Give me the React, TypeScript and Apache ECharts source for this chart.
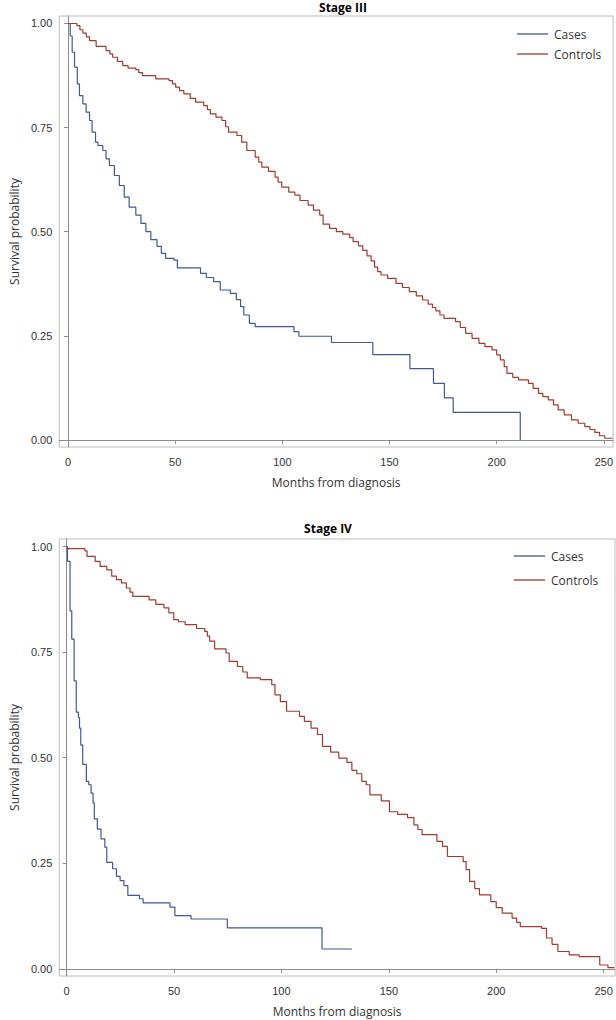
import React, { useEffect, useRef } from "react";
import * as echarts from "echarts";

const xTicks = [0, 50, 100, 150, 200, 250];
const yTicks = [0, 0.25, 0.5, 0.75, 1];
const panelTitles = ["Stage III", "Stage IV"];
const seriesNames = ["Cases", "Controls"];
const xTitle = "Months from diagnosis";
const yTitle = "Survival probability";

// [months, survival probability]
const stage3Cases: [number, number][] = [
  [0, 1], [1.0, 0.97], [1.9, 0.931], [3.0, 0.895], [4.3, 0.855], [5.3, 0.827], [6.9, 0.807],
  [8.4, 0.787], [10.0, 0.767], [11.2, 0.739], [12.8, 0.715], [13.9, 0.707], [16.2, 0.695],
  [17.7, 0.675], [19.3, 0.659], [21.6, 0.635], [23.9, 0.611], [26.2, 0.583], [28.5, 0.559],
  [31.6, 0.54], [34.0, 0.52], [36.3, 0.5], [38.6, 0.481], [41.5, 0.465], [43.5, 0.448],
  [45.5, 0.436], [49.4, 0.432], [51.0, 0.413], [61.8, 0.4], [64.5, 0.39], [67.9, 0.38],
  [71.0, 0.36], [75.7, 0.352], [78.5, 0.337], [80.5, 0.32], [82.0, 0.3], [84.6, 0.28],
  [87.3, 0.272], [105.4, 0.26], [107.7, 0.249], [122.9, 0.234], [142.2, 0.205],
  [159.5, 0.171], [170.5, 0.136], [175.6, 0.101], [179.7, 0.066], [211.0, 0],
];

const stage3Controls: [number, number][] = [
  [0, 1], [4.1, 0.995], [5.5, 0.985], [6.9, 0.977], [8.5, 0.968], [10.0, 0.959], [13.1, 0.945],
  [17.7, 0.935], [19.5, 0.927], [20.8, 0.919], [23.0, 0.909], [25.5, 0.899], [28.0, 0.893],
  [31.6, 0.889], [33.0, 0.882], [34.7, 0.875], [40.9, 0.867], [47.1, 0.863], [48.7, 0.855],
  [50.2, 0.847], [52.0, 0.839], [54.0, 0.831], [57.0, 0.82], [59.5, 0.811], [63.3, 0.803],
  [65.0, 0.793], [66.4, 0.783], [69.0, 0.775], [71.8, 0.767], [73.5, 0.752], [74.9, 0.739],
  [78.8, 0.731], [81.0, 0.715], [83.4, 0.695], [87.3, 0.679], [89.0, 0.667], [90.4, 0.655],
  [93.5, 0.645], [96.6, 0.631], [98.0, 0.619], [99.7, 0.607], [103.0, 0.595], [105.8, 0.588],
  [108.2, 0.575], [112.0, 0.564], [114.5, 0.552], [117.4, 0.54], [119.0, 0.518], [122.0, 0.508],
  [125.2, 0.5], [128.2, 0.494], [131.4, 0.486], [133.0, 0.476], [135.5, 0.466], [137.5, 0.455],
  [139.5, 0.442], [141.4, 0.43], [143.0, 0.415], [144.5, 0.404], [146.0, 0.396], [149.1, 0.388],
  [153.0, 0.376], [156.0, 0.366], [159.2, 0.356], [162.5, 0.346], [165.4, 0.336], [168.0, 0.326],
  [170.0, 0.318], [171.6, 0.31], [173.5, 0.3], [175.4, 0.292], [180.8, 0.284], [183.0, 0.27],
  [185.5, 0.256], [188.5, 0.244], [191.7, 0.232], [194.5, 0.224], [197.8, 0.216], [200.0, 0.204],
  [201.7, 0.192], [203.5, 0.176], [204.8, 0.16], [207.5, 0.15], [210.2, 0.144], [214.8, 0.136],
  [217.0, 0.124], [219.5, 0.112], [221.5, 0.104], [224.1, 0.096], [226.5, 0.084], [228.7, 0.072],
  [231.5, 0.06], [234.9, 0.048], [238.0, 0.04], [241.1, 0.032], [243.5, 0.025], [245.8, 0.018],
  [248.0, 0.01], [250.4, 0.004], [254.0, 0.004],
];

const stage4Cases: [number, number][] = [
  [0, 1], [0.4, 0.965], [1.6, 0.848], [2.4, 0.781], [3.5, 0.682], [4.5, 0.608], [5.5, 0.595],
  [6.0, 0.57], [6.6, 0.53], [7.5, 0.484], [9.2, 0.444], [10.3, 0.436], [11.4, 0.416],
  [12.3, 0.393], [12.9, 0.355], [14.3, 0.331], [16.0, 0.308], [17.8, 0.288], [18.7, 0.252],
  [21.4, 0.237], [23.2, 0.219], [24.9, 0.209], [26.7, 0.197], [28.5, 0.174], [33.9, 0.166],
  [35.6, 0.156], [48.1, 0.146], [50.4, 0.126], [57.9, 0.118], [74.8, 0.097], [118.9, 0.047],
  [132.8, 0.047],
];

const stage4Controls: [number, number][] = [
  [0, 0.995], [8.5, 0.99], [9.5, 0.977], [13.3, 0.965], [15.6, 0.953], [18.7, 0.945], [21.0, 0.93],
  [23.2, 0.922], [25.5, 0.914], [27.8, 0.902], [29.5, 0.892], [30.8, 0.882], [38.4, 0.874],
  [41.5, 0.863], [45.3, 0.855], [47.6, 0.843], [49.9, 0.827], [52.1, 0.822], [55.2, 0.815],
  [60.5, 0.806], [64.3, 0.799], [65.5, 0.788], [66.6, 0.776], [68.9, 0.758], [74.2, 0.748],
  [75.7, 0.728], [79.5, 0.716], [82.0, 0.703], [84.1, 0.689], [90.2, 0.685], [95.5, 0.673],
  [97.0, 0.649], [99.5, 0.633], [102.4, 0.61], [108.4, 0.598], [110.7, 0.586], [113.8, 0.57],
  [116.8, 0.555], [119.1, 0.527], [122.9, 0.513], [126.7, 0.499], [130.5, 0.489], [132.8, 0.47],
  [135.1, 0.462], [137.4, 0.444], [139.5, 0.436], [141.2, 0.412], [146.5, 0.398], [150.3, 0.372],
  [154.1, 0.366], [158.7, 0.358], [161.7, 0.341], [163.5, 0.33], [165.5, 0.318], [172.4, 0.302],
  [175.0, 0.29], [177.3, 0.266], [184.6, 0.254], [186.0, 0.235], [187.6, 0.207], [190.0, 0.19],
  [192.2, 0.175], [197.5, 0.159], [200.0, 0.145], [202.8, 0.132], [207.4, 0.12], [209.5, 0.11],
  [211.2, 0.1], [221.1, 0.096], [223.4, 0.073], [226.0, 0.058], [228.7, 0.041], [234.0, 0.033],
  [238.6, 0.029], [248.2, 0.009], [252.0, 0.003], [255.0, 0.003],
];

const CASES_COLOR = "#445694";
const CONTROLS_COLOR = "#A23A2E";
const FONT = "'Open Sans', 'Noto Sans', sans-serif";
const TICK_FONT = "'Liberation Sans', Arial, sans-serif";

function makeXAxis(gridIndex: number, min: number, max: number) {
  return {
    type: "value",
    gridIndex,
    min,
    max,
    name: xTitle,
    nameLocation: "middle",
    nameGap: 29,
    nameTextStyle: { fontFamily: FONT, fontSize: 12, color: "#333" },
    axisLine: { show: true, lineStyle: { color: "#8c8c8c", width: 1 } },
    axisTick: { show: true, length: 4, customValues: xTicks, lineStyle: { color: "#8c8c8c" } },
    axisLabel: {
      customValues: xTicks,
      margin: 9,
      fontFamily: TICK_FONT,
      fontSize: 11,
      color: "#333",
    },
    splitLine: { show: false },
  };
}

function makeYAxis(gridIndex: number) {
  return {
    type: "value",
    gridIndex,
    min: -0.017,
    max: 1.018,
    name: yTitle,
    nameLocation: "middle",
    nameGap: 34,
    nameRotate: 90,
    nameTextStyle: { fontFamily: FONT, fontSize: 12, color: "#333" },
    axisLine: { show: true, lineStyle: { color: "#8c8c8c", width: 1 } },
    axisTick: { show: true, length: 4, customValues: yTicks, lineStyle: { color: "#8c8c8c" } },
    axisLabel: {
      customValues: yTicks,
      margin: 7,
      fontFamily: TICK_FONT,
      fontSize: 11,
      color: "#333",
      formatter: (v: number) => v.toFixed(2),
    },
    splitLine: { show: false },
  };
}

function makeSeries(name: string, data: [number, number][], color: string, idx: number) {
  return {
    type: "line",
    name,
    data,
    xAxisIndex: idx,
    yAxisIndex: idx,
    step: "end",
    symbol: "none",
    showSymbol: false,
    color,
    itemStyle: { color },
    lineStyle: { color, width: 1.2 },
    emphasis: { disabled: true },
    silent: true,
  };
}

function makeLegend(name: string, left: number, top: number) {
  return {
    data: [{ name, icon: "rect" }],
    left,
    top,
    orient: "vertical",
    padding: 0,
    itemWidth: 31,
    itemHeight: 1.3,
    itemGap: 0,
    selectedMode: false,
    textStyle: { fontFamily: FONT, fontSize: 12, color: "#333", padding: [0, 0, 0, 1] },
  };
}

export default function App() {
  const ref = useRef<HTMLDivElement>(null);

  useEffect(() => {
    if (!ref.current) return;
    const chart = echarts.init(ref.current, undefined, { renderer: "svg" });
    const option = {
      animation: false,
      backgroundColor: "#ffffff",
      grid: [
        { left: 58, top: 16, width: 557, height: 431, show: true, borderColor: "#bdbdbd", borderWidth: 1 },
        { left: 48, top: 539, width: 567, height: 437, show: true, borderColor: "#bdbdbd", borderWidth: 1 },
      ],
      xAxis: [makeXAxis(0, -4.1, 254.3), makeXAxis(1, -3.4, 255.3)],
      yAxis: [makeYAxis(0), makeYAxis(1)],
      legend: [
        makeLegend(seriesNames[0], 517, 28),
        makeLegend(seriesNames[1], 517, 48),
        makeLegend(seriesNames[0], 514, 550),
        makeLegend(seriesNames[1], 514, 574),
      ],
      graphic: [
        {
          type: "text",
          x: 343,
          y: 7,
          style: {
            text: panelTitles[0],
            align: "center",
            verticalAlign: "middle",
            font: `bold 12px ${FONT}`,
            fill: "#000",
          },
        },
        {
          type: "text",
          x: 328,
          y: 528,
          style: {
            text: panelTitles[1],
            align: "center",
            verticalAlign: "middle",
            font: `bold 12px ${FONT}`,
            fill: "#000",
          },
        },
      ],
      series: [
        makeSeries(seriesNames[0], stage3Cases, CASES_COLOR, 0),
        makeSeries(seriesNames[1], stage3Controls, CONTROLS_COLOR, 0),
        makeSeries(seriesNames[0], stage4Cases, CASES_COLOR, 1),
        makeSeries(seriesNames[1], stage4Controls, CONTROLS_COLOR, 1),
      ],
    };
    chart.setOption(option as any);
    return () => chart.dispose();
  }, []);

  return (
    <div
      ref={ref}
      style={{ position: "absolute", left: 0, top: 0, width: 616, height: 1020 }}
    />
  );
}
